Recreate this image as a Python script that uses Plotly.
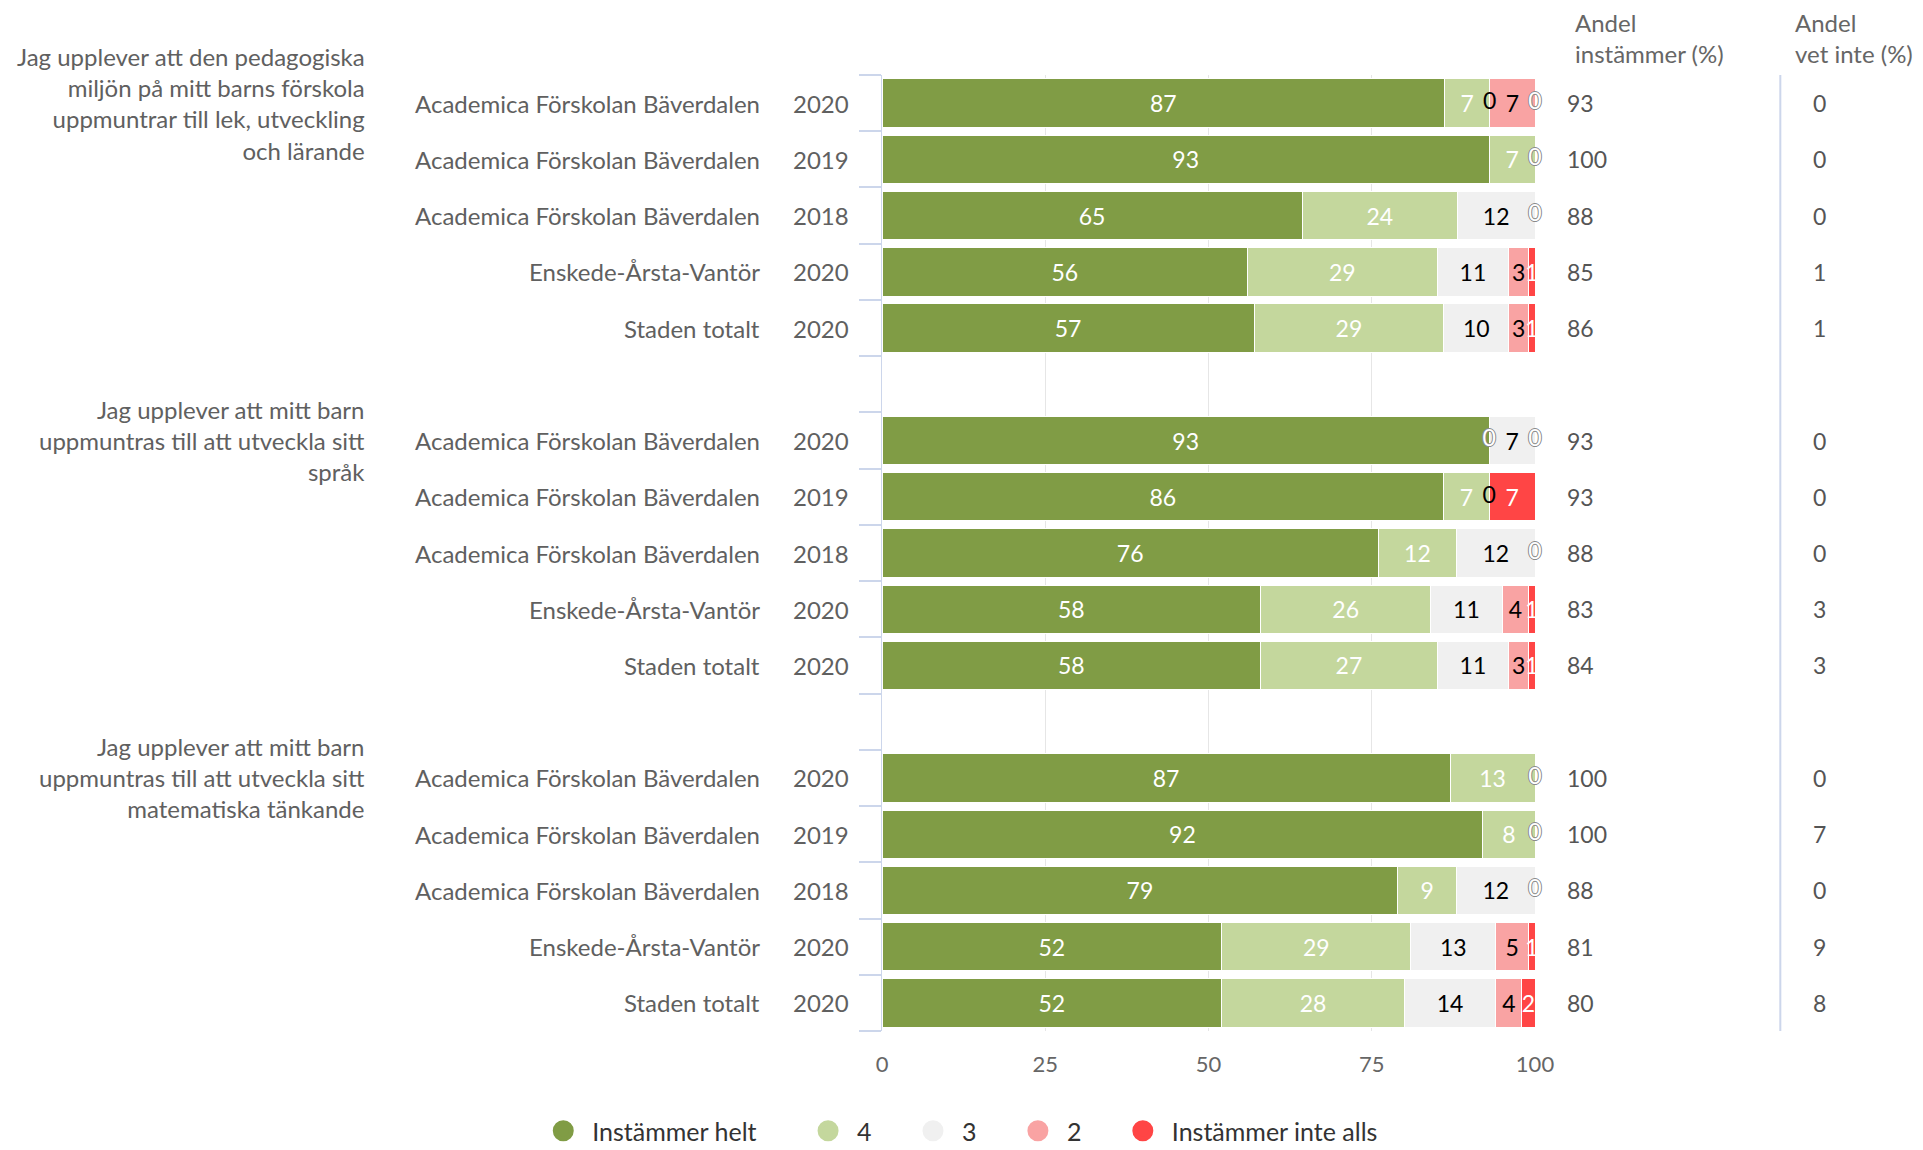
import plotly.graph_objects as go

# ---------------- data ----------------
questions = [
    "Jag upplever att den pedagogiska<br>miljön på mitt barns förskola<br>uppmuntrar till lek, utveckling<br>och lärande",
    "Jag upplever att mitt barn<br>uppmuntras till att utveckla sitt<br>språk",
    "Jag upplever att mitt barn<br>uppmuntras till att utveckla sitt<br>matematiska tänkande",
]
units = ["Academica Förskolan Bäverdalen", "Academica Förskolan Bäverdalen",
         "Academica Förskolan Bäverdalen", "Enskede-Årsta-Vantör", "Staden totalt"]
years = ["2020", "2019", "2018", "2020", "2020"]

series_names = ["Instämmer helt", "4", "3", "2", "Instämmer inte alls"]
instammer_helt = [87, 93, 65, 56, 57, 93, 86, 76, 58, 58, 87, 92, 79, 52, 52]
svar_4 = [7, 7, 24, 29, 29, 0, 7, 12, 26, 27, 13, 8, 9, 29, 28]
svar_3 = [0, 0, 12, 11, 10, 7, 0, 12, 11, 11, 0, 0, 12, 13, 14]
svar_2 = [7, 0, 0, 3, 3, 0, 0, 0, 4, 3, 0, 0, 0, 5, 4]
instammer_inte_alls = [0, 0, 0, 1, 1, 0, 7, 0, 1, 1, 0, 0, 0, 1, 2]

andel_instammer = [93, 100, 88, 85, 86, 93, 93, 88, 83, 84, 100, 100, 88, 81, 80]
andel_vet_inte = [0, 0, 0, 1, 1, 0, 0, 0, 3, 3, 0, 7, 0, 9, 8]

x_ticks = [0, 25, 50, 75, 100]

# ---------------- styling ----------------
FONT = "Lato"
colors = ["#809c45", "#c4d79d", "#f0f0f0", "#f9a3a3", "#ff4545"]
text_colors = ["#ffffff", "#ffffff", "#000000", "#000000", "#ffffff"]
OUTLINE = "-1px 0 #8a8a8a, 1px 0 #8a8a8a, 0 -1px #8a8a8a, 0 1px #8a8a8a"

OFF = 8  # page body margin
W, H = 1923 - OFF, 1150 - OFF
L, R_EDGE, T, B_EDGE = 882 - OFF, 1535.5 - OFF, 75 - OFF, 1031 - OFF
PW, PH = R_EDGE - L, B_EDGE - T


def pxx(px):  # reference page pixel -> paper x
    return (px - OFF - L) / PW


def pxy(py):  # reference page pixel -> paper y
    return (B_EDGE - (py - OFF)) / PH


all_series = [instammer_helt, svar_4, svar_3, svar_2, instammer_inte_alls]
n_groups = len(questions)
n_rows = len(units)
slots = [g * (n_rows + 1) + r for g in range(n_groups) for r in range(n_rows)]
n_slots = n_groups * (n_rows + 1) - 1  # number of category slots (incl. gaps)

fig = go.Figure()

# stacked bars
for k, (name, vals) in enumerate(zip(series_names, all_series)):
    fig.add_trace(go.Bar(
        orientation="h", x=vals, y=slots, name=name, width=0.86,
        marker=dict(color=colors[k], line=dict(color="white", width=1)),
        text=[str(v) if v else "" for v in vals],
        textposition="inside", insidetextanchor="middle", textangle=0,
        constraintext="none", cliponaxis=False,
        textfont=dict(family=FONT, size=23, color=text_colors[k]),
        showlegend=False, hoverinfo="x+y",
    ))

# zero-value labels (placed at the stacked position of the empty segment)
totals = [sum(s[i] for s in all_series) for i in range(len(slots))]
for k, vals in enumerate(all_series):
    xs, ys = [], []
    for i, v in enumerate(vals):
        if v != 0:
            continue
        if k + 1 < len(all_series) and all_series[k + 1][i] == 0:
            continue
        cum = sum(all_series[j][i] for j in range(k))
        xs.append(cum / totals[i] * 100)
        ys.append(slots[i])
    if xs:
        white = text_colors[k] == "#ffffff"
        fig.add_trace(go.Scatter(
            x=xs, y=ys, mode="text", text=["0"] * len(xs),
            textposition="middle center", cliponaxis=False,
            textfont=dict(family=FONT, size=23, color=text_colors[k],
                          shadow=OUTLINE if white else "none"),
            showlegend=False, hoverinfo="skip",
        ))

# legend entries (one legend each so they can be spaced like the original)
legend_centers = [563, 828, 933, 1038, 1143]
for k, name in enumerate(series_names):
    lid = "legend" if k == 0 else f"legend{k + 1}"
    fig.add_trace(go.Scatter(
        x=[None], y=[None], mode="markers", name=name, legend=lid,
        marker=dict(symbol="circle", size=16, color=colors[k],
                    line=dict(color=colors[k], width=5)),
        showlegend=True, hoverinfo="skip",
    ))

annotations = []
# row labels and right-hand columns
for i, s in enumerate(slots):
    r = i % n_rows
    annotations.append(dict(x=0, xref="paper", y=s, yref="y", xanchor="right",
                            yanchor="middle", xshift=-120, text=units[r], showarrow=False,
                            font=dict(family=FONT, size=24, color="#606060")))
    annotations.append(dict(x=0, xref="paper", y=s, yref="y", xanchor="right",
                            yanchor="middle", xshift=-31, text=years[r], showarrow=False,
                            font=dict(family=FONT, size=24, color="#606060")))
    annotations.append(dict(x=1, xref="paper", y=s, yref="y", xanchor="left",
                            yanchor="middle", xshift=30, text=str(andel_instammer[i]),
                            showarrow=False, font=dict(family=FONT, size=23, color="#555555")))
    annotations.append(dict(x=1, xref="paper", y=s, yref="y", xanchor="left",
                            yanchor="middle", xshift=276, text=str(andel_vet_inte[i]),
                            showarrow=False, font=dict(family=FONT, size=23, color="#555555")))
# questions
for g, q in enumerate(questions):
    annotations.append(dict(x=0, xref="paper", y=g * (n_rows + 1), yref="y",
                            xanchor="right", yanchor="middle", xshift=-515, align="right",
                            text=q, showarrow=False,
                            font=dict(family=FONT, size=24, color="#606060")))
# column headers
annotations.append(dict(x=1, xref="paper", y=1, yref="paper", xanchor="left",
                        yanchor="middle", xshift=38, yshift=37, align="left",
                        text="Andel<br>instämmer (%)", showarrow=False,
                        font=dict(family=FONT, size=24, color="#666666")))
annotations.append(dict(x=1, xref="paper", y=1, yref="paper", xanchor="left",
                        yanchor="middle", xshift=257.5, yshift=37, align="left",
                        text="Andel<br>vet inte (%)", showarrow=False,
                        font=dict(family=FONT, size=24, color="#666666")))

layout_legends = {}
for k, c in enumerate(legend_centers):
    lid = "legend" if k == 0 else f"legend{k + 1}"
    layout_legends[lid] = dict(
        x=pxx(c - 29), xanchor="left", y=pxy(1131), yanchor="middle",
        orientation="h", itemwidth=48, bgcolor="rgba(0,0,0,0)",
        font=dict(family=FONT, size=25, color="#333333"),
    )

fig.update_layout(
    width=W, height=H,
    margin=dict(l=L, r=W - R_EDGE, t=T, b=H - B_EDGE, autoexpand=False),
    paper_bgcolor="white", plot_bgcolor="white",
    barmode="stack", barnorm="percent",
    font=dict(family=FONT, color="#333333"),
    xaxis=dict(range=[0, 100], tickvals=x_ticks, ticktext=[str(t) for t in x_ticks],
               showgrid=True, gridcolor="#e6e6e6", gridwidth=1, zeroline=False,
               showline=False, ticks="", ticklabelstandoff=18,
               tickfont=dict(family=FONT, size=22, color="#666666"), fixedrange=True),
    yaxis=dict(range=[n_slots - 0.5, -0.5], tickvals=[i - 0.5 for i in range(n_slots + 1)],
               showticklabels=False, ticks="outside", ticklen=22, tickcolor="#ccd6eb",
               tickwidth=1.5, showgrid=False, zeroline=False, showline=True,
               linecolor="#ccd6eb", linewidth=1, fixedrange=True),
    annotations=annotations,
    shapes=[dict(type="line", xref="paper", yref="paper", x0=pxx(1781), x1=pxx(1781),
                 y0=0, y1=1, line=dict(color="#ccd6eb", width=2))],
    **layout_legends,
)

fig.write_html("out.html")
